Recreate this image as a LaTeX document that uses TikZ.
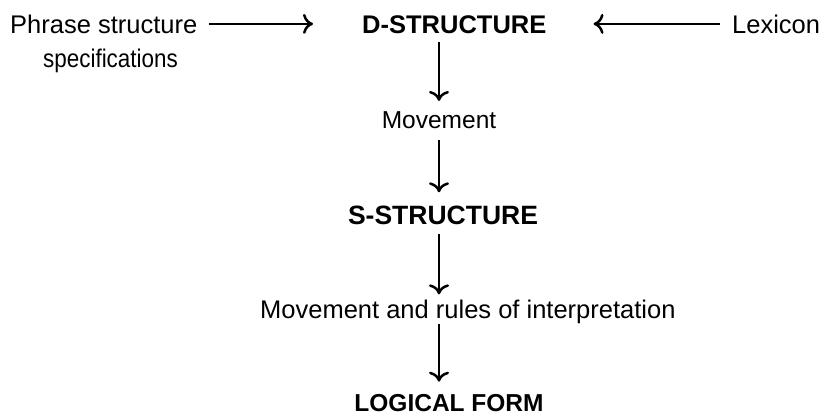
\documentclass[tikz,border=0pt]{standalone}
\usepackage{fontspec}
\setmainfont{Liberation Sans}
\usepackage{graphicx}
\usetikzlibrary{arrows.meta}
\begin{document}
\begin{tikzpicture}[x=1pt,y=-1pt,
  lbl/.style={inner sep=0pt,anchor=base,font=\fontsize{25.5}{30}\selectfont},
  blbl/.style={lbl,font=\fontsize{25.5}{30}\selectfont\bfseries},
  arr/.style={line width=2.5pt,-{Computer Modern Rightarrow[length=10pt,width=20pt,line width=2.5pt]}}]
\useasboundingbox[fill=white] (0,0) rectangle (826,416);
\coordinate (axis) at (439,0);
\node[lbl,anchor=base west] (phrase) at (10,33) {Phrase structure};
\node[lbl] (spec) at (110.5,67) {\scalebox{0.88}[1]{specifications}};
\node[blbl,anchor=base west] (dstr) at (362,33) {D-STRUCTURE};
\node[lbl,anchor=base west] (lex) at (732,33) {Lexicon};
\node[lbl,font=\fontsize{24.5}{30}\selectfont] (mov1) at (439,128) {Movement};
\node[blbl,font=\fontsize{26.5}{30}\selectfont\bfseries] (sstr) at (443,224) {S-STRUCTURE};
\node[lbl,anchor=base west] (mov2) at (260,318) {Movement and rules of interpretation};
\node[blbl,font=\fontsize{24.5}{30}\selectfont\bfseries] (lf) at (449,411) {LOGICAL FORM};
\draw[arr,shorten <=12pt,shorten >=49pt] (phrase.east) -- (phrase.east -| dstr.west);
\draw[arr,shorten <=12pt,shorten >=47pt] (lex.west) -- (lex.west -| dstr.east);
\draw[arr,shorten <=9pt,shorten >=10pt] (dstr.south -| axis) -- (mov1.north -| axis);
\draw[arr,shorten <=12pt,shorten >=13pt] (mov1.south -| axis) -- (sstr.north -| axis);
\draw[arr,shorten <=10pt,shorten >=5pt] (sstr.south -| axis) -- (mov2.north -| axis);
\draw[arr,shorten <=0pt,shorten >=12pt] (mov2.south -| axis) -- (lf.north -| axis);
\end{tikzpicture}
\end{document}
